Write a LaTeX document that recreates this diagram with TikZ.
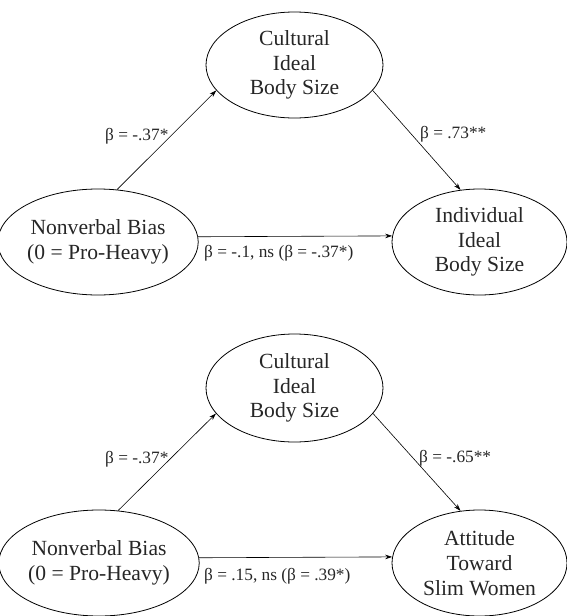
\documentclass[tikz,border=0pt]{standalone}
\usepackage{fontspec}
\setmainfont{Liberation Serif}
\usetikzlibrary{shapes.geometric,arrows.meta}
\begin{document}
\begin{tikzpicture}[x=1pt,y=-1pt,
  var/.style={ellipse,draw,line width=0.8pt,minimum width=177pt,minimum height=106pt,
    inner sep=0pt,align=center,text=black!85,font=\fontsize{21.6}{24.8}\selectfont},
  conn/.style={-{Stealth[length=7pt,width=4.5pt]},line width=0.6pt},
  coef/.style={inner sep=0pt,anchor=base west,text=black!85,font=\fontsize{17.3}{20}\selectfont}]
\useasboundingbox (0,0) rectangle (567,616);
% top diagram
\node[var] (C1) at (294.5,65) {Cultural\\Ideal\\Body Size};
\node[var] (N1) at (98,242) {Nonverbal Bias\\(0 = Pro-Heavy)};
\node[var,minimum width=175pt] (I1) at (479.5,242) {Individual\\Ideal\\Body Size};
\draw[conn] (N1.70) -- (C1.198);
\draw[conn] (C1.342) -- (I1.110);
\draw[conn] (N1.3.3) -- (I1.176.7);
\node[coef] (a1) at (105,140) {β = -.37*};
\node[coef] (b1) at (420,138) {β = .73**};
\node[coef] (c1) at (204,257) {β = -.1, ns (β = -.37*)};
% bottom diagram
\node[var,minimum height=108pt] (C2) at (294.5,388) {Cultural\\Ideal\\Body Size};
\node[var] (N2) at (99,563) {Nonverbal Bias\\(0 = Pro-Heavy)};
\node[var,minimum width=175pt] (A2) at (479.5,563) {Attitude\\Toward\\Slim Women};
\draw[conn] (N2.70) -- (C2.198);
\draw[conn] (C2.342) -- (A2.110);
\draw[conn] (N2.3.3) -- (A2.176.7);
\node[coef] (a2) at (105,463) {β = -.37*};
\node[coef] (b2) at (419,462) {β = -.65**};
\node[coef] (c2) at (204,580) {β = .15, ns (β = .39*)};
\end{tikzpicture}
\end{document}
